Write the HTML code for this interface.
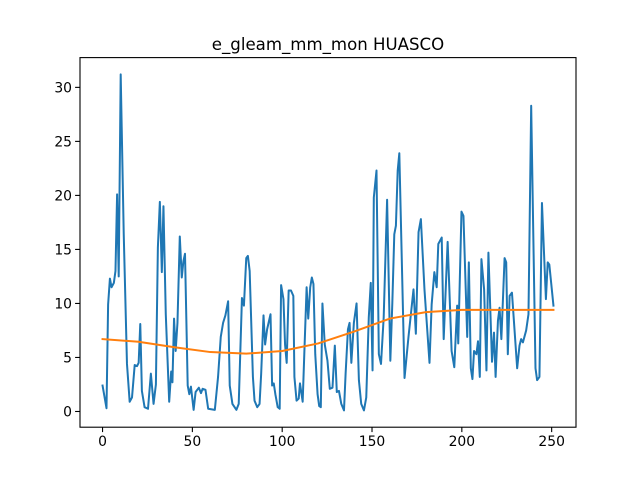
<!DOCTYPE html>
<html><head><meta charset="utf-8"><style>
body{margin:0;background:#fff}
svg text{font-family:"DejaVu Sans","Liberation Sans",sans-serif;fill:#000}
</style></head><body>
<svg id="chart" width="640" height="480" viewBox="0 0 640 480" xmlns="http://www.w3.org/2000/svg">
<rect width="640" height="480" fill="#fff"/>
<text x="328" y="50" font-size="16.6" text-anchor="middle">e_gleam_mm_mon HUASCO</text>
<g id="plot"></g>
</svg>
<script>
const seriesX = [0,2.2,3.1,4.1,5,6.3,7.2,8.1,9,10.1,11.8,13.6,15.1,16.4,17.9,19.2,20.1,21,21.9,23.4,25.3,26.9,28.4,29.7,30.8,31.9,33,33.9,35.2,37.1,38.2,38.9,39.8,40.7,41.7,43,44.1,45,45.9,47.4,48.3,49.2,50.7,51.8,53.6,54.8,55.7,57.3,58.8,62.5,64.3,65.8,67.1,68.4,69.9,70.8,72.3,74.5,75.8,76.7,77.6,78.7,80,80.9,81.9,83.7,84.6,86.1,87.4,88.3,89.6,90.5,91.6,93.5,94.4,95.3,96.2,97.5,98.6,99.4,100.7,101.6,102.5,103.6,104.9,106.2,106.8,108,109.2,109.9,111.4,112.3,113.6,114.5,115.6,116.5,117.4,118.4,119.7,120.6,121.5,122.4,123.7,125.2,126.5,128,129.3,130.4,131.6,132.9,134.4,135.3,136.6,137.5,138.5,139.9,141.4,142.7,144,145.5,146.8,148.2,149.3,150.3,151,152.5,153.8,155,156.5,158.4,160.2,161.3,162.4,163.3,164.3,165.2,168.1,170.3,173.1,174.4,175.9,177.2,179.2,182,183.2,184.7,186,186.9,188.8,189.9,192.1,194.3,195.8,197.4,198,199.8,200.9,203,203.9,205,205.9,206.8,208.1,209,210,210.9,212.4,213.7,214.8,216.8,217.9,218.8,220.1,221,222,223.8,224.7,225.6,226.6,227.9,230.8,232.1,233,234,235.8,237.1,238.6,241,241.9,243.2,244.6,246.8,247.8,248.7,251];
const seriesY = [2.4,0.3,9.9,12.3,11.5,11.9,13,20.1,12.5,31.2,16.4,4.4,0.9,1.3,4.3,4.2,4.5,8.1,1.9,0.4,0.25,3.5,0.7,2.5,15.2,19.4,12.9,19,9,0.9,3.7,2.7,8.6,5.6,8.2,16.2,12.4,13.9,14.6,2.4,1.6,2.3,0.15,1.8,2.2,1.7,2.1,2,0.25,0.15,3.2,6.9,8.2,8.9,10.2,2.4,0.7,0.15,0.7,5.6,10.5,9.8,14.2,14.4,13,3.2,1.0,0.4,0.7,3.5,8.9,6.2,7.6,9,2.4,2.6,1.6,0.4,0.25,11.7,10.4,6.2,4.5,11.2,11.2,10.7,3.2,1.0,1.2,2.6,0.9,5.3,11.5,8.6,11.5,12.4,11.8,5.3,1.6,0.5,0.4,10,6.2,4.7,2.1,2.2,6.1,1.8,1.9,0.7,0.1,3.5,7.6,8.2,4.5,8.2,10,2.9,0.7,0.1,1.3,8.7,11.9,3.8,19.8,22.3,5.3,4.4,8.7,19.6,4.7,10,16.4,17.2,22.3,23.9,3.1,6.9,11.3,7.2,16.6,17.8,11.3,4.5,9.9,12.9,11.5,15.5,16.1,6.7,15.7,5.6,4.1,9.8,6.3,18.5,18.1,6.9,13.8,4.0,3.0,5.6,5.3,6.5,3.2,14.1,11.3,3.8,14.7,4.6,7.3,3.2,8.4,9.6,6.7,14.2,13.8,5.3,10.7,11.0,4.0,6.1,6.7,6.4,7.5,9.0,28.3,4.0,2.9,3.2,19.3,10.4,13.8,13.6,9.8];
const trendX = [0,20,40,60,80,100,120,140,160,180,200,220,251];
const trendY = [6.7,6.45,5.95,5.5,5.35,5.6,6.3,7.4,8.6,9.2,9.4,9.4,9.4];
const xTicks = [0,50,100,150,200,250];
const yTicks = [0,5,10,15,20,25,30];

const L=80,R=576,T=57.6,B=427.2;
const xmin0=0,xmax0=251;
const xpad=(xmax0-xmin0)*0.05;
const ymin0=Math.min(...seriesY),ymax0=Math.max(...seriesY);
const ypad=(ymax0-ymin0)*0.05;
const xs=v=>L+(v-(xmin0-xpad))/((xmax0+xpad)-(xmin0-xpad))*(R-L);
const ys=v=>B-(v-(ymin0-ypad))/((ymax0+ypad)-(ymin0-ypad))*(B-T);
const NS="http://www.w3.org/2000/svg";
const g=document.getElementById('plot');
function mk(tag,attrs){const e=document.createElementNS(NS,tag);for(const k in attrs)e.setAttribute(k,attrs[k]);g.appendChild(e);return e;}

let d=seriesX.map((x,i)=>(i?'L':'M')+xs(x).toFixed(2)+' '+ys(seriesY[i]).toFixed(2)).join(' ');
const p1=mk('path',{d:d,fill:'none',stroke:'#1f77b4','stroke-width':2,'stroke-linejoin':'round','stroke-linecap':'square'});


let d2=trendX.map((x,i)=>(i?'L':'M')+xs(x).toFixed(2)+' '+ys(trendY[i]).toFixed(2)).join(' ');
const p2=mk('path',{d:d2,fill:'none',stroke:'#ff7f0e','stroke-width':2,'stroke-linejoin':'round','stroke-linecap':'square'});



const fr=mk('rect',{x:L,y:T,width:R-L,height:B-T,fill:'none',stroke:'#000','stroke-width':1.1});



xTicks.forEach(t=>{
  const x=xs(t);
  const tk=mk('line',{x1:x,x2:x,y1:B,y2:B+4.9,stroke:'#000','stroke-width':1.1});
  
  
  const tx=mk('text',{x:x,y:B+19,'font-size':13.9,'text-anchor':'middle'});
  tx.textContent=t;
  
  
});
yTicks.forEach(t=>{
  const y=ys(t);
  const tk=mk('line',{x1:L-4.9,x2:L,y1:y,y2:y,stroke:'#000','stroke-width':1.1});
  
  
  const tx=mk('text',{x:L-8,y:y+5,'font-size':13.9,'text-anchor':'end'});
  tx.textContent=t;
  
  
});
</script>
</body></html>
